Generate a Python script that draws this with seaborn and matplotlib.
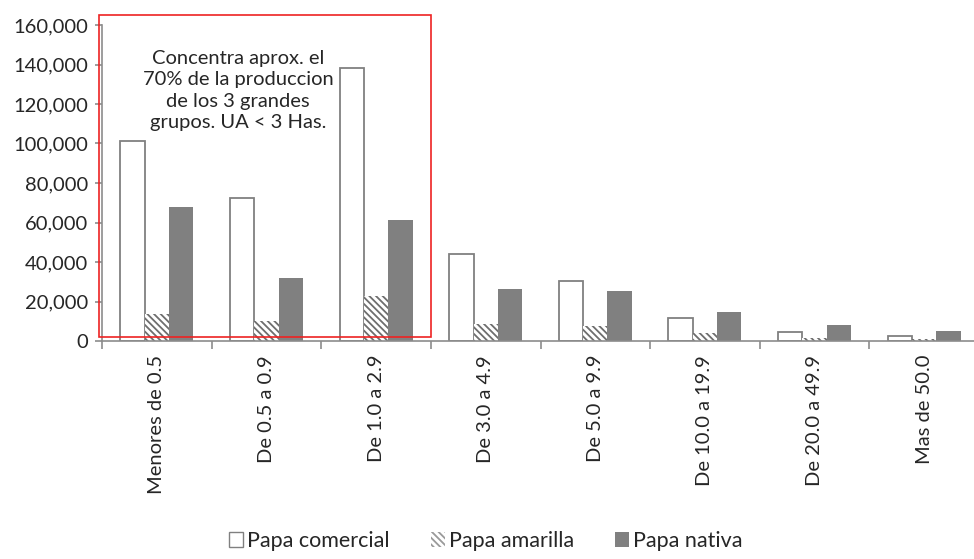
import matplotlib
matplotlib.use('Agg')
import matplotlib.pyplot as plt
import matplotlib.ticker as mticker
from matplotlib.patches import Rectangle
import numpy as np
import pandas as pd
import seaborn as sns

categorias = ['Menores de 0.5', 'De 0.5 a 0.9', 'De 1.0 a 2.9', 'De 3.0 a 4.9',
              'De 5.0 a 9.9', 'De 10.0 a 19.9', 'De 20.0 a 49.9', 'Mas de 50.0']
series = ['Papa comercial', 'Papa amarilla', 'Papa nativa']
papa_comercial = [101200, 72600, 138300, 43800, 30300, 11800, 4700, 2400]
papa_amarilla = [13600, 10000, 22700, 8800, 7400, 4000, 1500, 900]
papa_nativa = [67800, 31800, 61300, 26200, 25400, 14600, 7900, 5200]
nota = 'Concentra aprox. el\n70% de la produccion\nde los 3 grandes\ngrupos. UA < 3 Has.'

sns.set_theme(style='white')
plt.rcParams['font.family'] = ['Lato', 'DejaVu Sans']
plt.rcParams['hatch.linewidth'] = 1.3

df = pd.DataFrame({
    'categoria': categorias * 3,
    'serie': np.repeat(series, len(categorias)),
    'valor': papa_comercial + papa_amarilla + papa_nativa,
})

gris = '#808080'
fig = plt.figure(figsize=(9.74, 5.59), dpi=100)
ax = fig.add_axes([102 / 974, 218 / 559, 877 / 974, 316 / 559])

sns.barplot(data=df, x='categoria', y='valor', hue='serie', order=categorias,
            hue_order=series, palette=['white', 'white', gris], width=0.665,
            gap=0, errorbar=None, legend=False, ax=ax)

n = len(categorias)
for i, bar in enumerate(ax.patches[:3 * n]):
    s = i // n
    if s == 0:
        bar.set_facecolor('white')
        bar.set_edgecolor(gris)
        bar.set_linewidth(1.3)
    elif s == 1:
        bar.set_facecolor('white')
        bar.set_edgecolor('#6e6e6e')
        bar.set_hatch('\\\\\\\\\\')
        bar.set_linewidth(0)
    else:
        bar.set_facecolor(gris)
        bar.set_edgecolor(gris)
        bar.set_linewidth(0)

ax.set_ylim(0, 160000)
ax.set_xlim(-0.5, n - 0.5)
ax.yaxis.set_major_locator(mticker.MultipleLocator(20000))
ax.yaxis.set_major_formatter(mticker.FuncFormatter(lambda v, p: f'{v:,.0f}'))
ax.set_xlabel('')
ax.set_ylabel('')
for side in ['top', 'right']:
    ax.spines[side].set_visible(False)
for side in ['left', 'bottom']:
    ax.spines[side].set_color('#8c8c8c')
    ax.spines[side].set_linewidth(1.2)

ax.set_xticks(range(n))
ax.set_xticklabels(categorias, rotation=90, fontsize=14.5)
ax.set_xticks(np.arange(-0.5, n, 1), minor=True)
ax.tick_params(axis='x', which='major', length=0, pad=10)
ax.tick_params(axis='x', which='minor', length=6, color='#8c8c8c', width=1.2,
               bottom=True, direction='out')
ax.tick_params(axis='y', length=5, color='#8c8c8c', width=1.2, left=True,
               direction='out', labelsize=14.5, pad=5)

# recuadro rojo y nota
ax.add_patch(Rectangle((-0.527, 2000), 3.03, 163000, fill=False,
                       edgecolor='#ee2222', linewidth=1.2, clip_on=False,
                       zorder=5))
ax.text(0.74, 126800, nota, ha='center', va='center', multialignment='center',
        fontsize=14.5, linespacing=1.3)

handles = [
    Rectangle((0, 0), 1, 1, facecolor='white', edgecolor=gris, linewidth=1),
    Rectangle((0, 0), 1, 1, facecolor='white', edgecolor='#9a9a9a',
              hatch='\\\\\\\\\\', linewidth=0),
    Rectangle((0, 0), 1, 1, facecolor=gris, edgecolor=gris, linewidth=0),
]
fig.legend(handles, series, loc='center', bbox_to_anchor=(486 / 974, 1 - 541 / 559),
           ncol=3, frameon=False, fontsize=15.5, handlelength=0.65,
           handleheight=0.65, handletextpad=0.2, columnspacing=1.9)

fig.savefig('out.png', dpi=100)
